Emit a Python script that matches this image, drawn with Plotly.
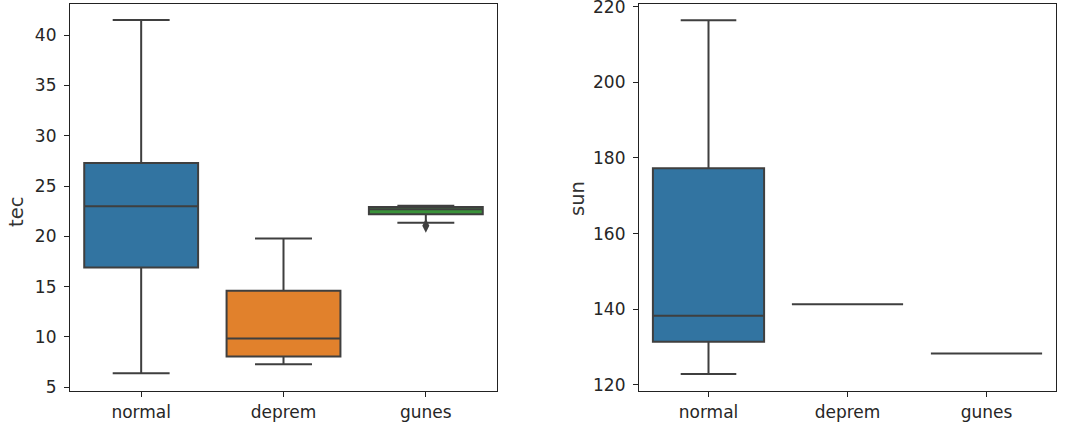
import plotly.graph_objects as go

categories = ["normal", "deprem", "gunes"]
colors = ["#3274A1", "#E1812C", "#3A923A"]

# tec panel stats
tec_low = [6.4, 7.3, 21.35]
tec_q1 = [16.9, 8.05, 22.2]
tec_med = [23.0, 9.85, 22.7]
tec_q3 = [27.3, 14.6, 22.93]
tec_high = [41.5, 19.8, 23.05]
tec_outlier_cat = ["gunes"]
tec_outlier_val = [21.05]

# sun panel stats
sun_low = [122.9, 141.3, 128.3]
sun_q1 = [131.4, 141.3, 128.3]
sun_med = [138.3, 141.3, 128.3]
sun_q3 = [177.3, 141.3, 128.3]
sun_high = [216.4, 141.3, 128.3]

LINE = "#3f3f3f"
FONT = "DejaVu Sans"

fig = go.Figure()

def add_panel(low, q1, med, q3, high, xa, ya):
    for i, c in enumerate(categories):
        fig.add_trace(go.Box(
            x=[c], q1=[q1[i]], median=[med[i]], q3=[q3[i]],
            lowerfence=[low[i]], upperfence=[high[i]],
            fillcolor=colors[i], line=dict(color=LINE, width=2),
            width=0.8, whiskerwidth=0.5, boxpoints=False,
            xaxis=xa, yaxis=ya, showlegend=False, hoverinfo="skip",
        ))

add_panel(tec_low, tec_q1, tec_med, tec_q3, tec_high, "x", "y")
add_panel(sun_low, sun_q1, sun_med, sun_q3, sun_high, "x2", "y2")

fig.add_trace(go.Scatter(
    x=tec_outlier_cat, y=tec_outlier_val, mode="markers",
    marker=dict(symbol="diamond-tall", size=10, color=LINE),
    xaxis="x", yaxis="y", showlegend=False, hoverinfo="skip",
))

axis_common = dict(
    showline=True, linecolor="#222", linewidth=1.2, mirror=True,
    ticks="outside", ticklen=5, tickwidth=1.2, tickcolor="#222",
    showgrid=False, zeroline=False, ticklabeloverflow="allow",
    automargin=False,
    tickfont=dict(family=FONT, size=17, color="#262626"),
)

y0 = 1 - 391 / 430
y1 = 1 - 4 / 430

fig.update_layout(
    width=1092, height=430,
    margin=dict(l=0, r=0, t=0, b=0, pad=0, autoexpand=False),
    paper_bgcolor="white", plot_bgcolor="white",
    boxmode="overlay",
    xaxis=dict(domain=[70 / 1092, 497 / 1092], anchor="y",
               categoryorder="array", categoryarray=categories,
               range=[-0.5, 2.5], ticklabelstandoff=0, **axis_common),
    yaxis=dict(domain=[y0, y1], anchor="x", range=[4.63, 43.1],
               tickmode="array", tickvals=[5, 10, 15, 20, 25, 30, 35, 40],
               ticklabelstandoff=4, **axis_common),
    xaxis2=dict(domain=[639 / 1092, 1056 / 1092], anchor="y2",
                categoryorder="array", categoryarray=categories,
                range=[-0.5, 2.5], ticklabelstandoff=0, **axis_common),
    yaxis2=dict(domain=[y0, y1], anchor="x2", range=[118.4, 220.7],
                tickmode="array", tickvals=[120, 140, 160, 180, 200, 220],
                ticklabelstandoff=4, **axis_common),
    annotations=[
        dict(text="tec", x=16 / 1092, y=1 - 212 / 430, xref="paper", yref="paper",
             xanchor="center", yanchor="middle",
             textangle=-90, showarrow=False,
             font=dict(family=FONT, size=19.5, color="#333")),
        dict(text="sun", x=577 / 1092, y=1 - 199 / 430, xref="paper", yref="paper",
             xanchor="center", yanchor="middle",
             textangle=-90, showarrow=False,
             font=dict(family=FONT, size=19.5, color="#333")),
    ],
)

fig.write_html("out.html")
